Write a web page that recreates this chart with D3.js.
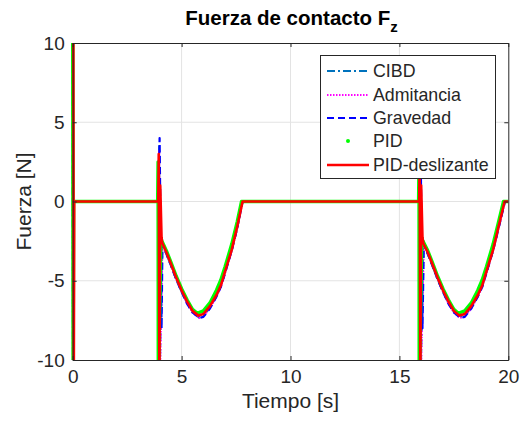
<!DOCTYPE html>
<html><head><meta charset="utf-8">
<script src="https://cdn.jsdelivr.net/npm/d3@7"></script>
<style>
html,body{margin:0;padding:0;background:#fff;}
svg{display:block;font-family:"Liberation Sans",Arial,Helvetica,sans-serif;}
</style></head>
<body>
<svg id="chart" width="521" height="425"></svg>
<script>
// ---------- data ----------
const xTicks = [0, 5, 10, 15, 20];
const yTicks = [-10, -5, 0, 5, 10];
const seriesNames = ["CIBD", "Admitancia", "Gravedad", "PID", "PID-deslizante"];

const cibd = [
  [0,12],[0.01,-12],[0.03,0],[3.94,0],[3.97,3.5],[4.0,-11],[4.1,-2.6],
  [4.3,-3.3],[4.5,-4.0],[4.75,-4.9],[5.0,-5.7],[5.25,-6.4],[5.5,-6.95],[5.78,-7.3],
  [6.0,-7.2],[6.3,-6.7],[6.6,-5.95],[6.8,-5.35],[7.0,-4.45],[7.3,-3.1],[7.55,-1.7],[7.8,0],
  [15.92,0],[15.95,3.5],[15.98,-11],[16.1,-2.65],
  [16.3,-3.3],[16.5,-4.0],[16.75,-4.9],[17.0,-5.7],[17.25,-6.4],[17.5,-6.95],[17.76,-7.3],
  [18.0,-7.2],[18.3,-6.7],[18.6,-5.95],[18.8,-5.35],[19.0,-4.45],[19.3,-3.1],[19.55,-1.7],[19.83,0],[20,0]
];
const admitancia = [
  [0,12],[0.01,-12],[0.03,0],[3.94,0],[3.97,3.2],[4.01,-11],[4.12,-2.7],
  [4.3,-3.3],[4.5,-4.0],[4.75,-4.9],[5.0,-5.7],[5.25,-6.45],[5.5,-7.0],[5.8,-7.35],
  [6.0,-7.25],[6.3,-6.75],[6.6,-6.0],[6.8,-5.4],[7.0,-4.5],[7.3,-3.1],[7.55,-1.7],[7.8,0],
  [15.92,0],[15.95,3.2],[15.99,-11],[16.12,-2.7],
  [16.3,-3.3],[16.5,-4.0],[16.75,-4.9],[17.0,-5.7],[17.25,-6.45],[17.5,-7.0],[17.78,-7.35],
  [18.0,-7.25],[18.3,-6.75],[18.6,-6.0],[18.8,-5.4],[19.0,-4.5],[19.3,-3.1],[19.55,-1.7],[19.85,0],[20,0]
];
const gravedad = [
  [0,12],[0.02,-12],[0.04,0],[3.95,0],[3.99,4.0],[4.08,-8.0],[4.12,-2.7],
  [4.3,-3.3],[4.5,-4.0],[4.75,-4.9],[5.0,-5.7],[5.25,-6.45],[5.5,-7.0],[5.82,-7.35],
  [6.0,-7.28],[6.3,-6.75],[6.6,-6.0],[6.8,-5.4],[7.0,-4.5],[7.3,-3.1],[7.55,-1.7],[7.8,0],
  [15.93,0],[15.97,4.0],[16.06,-8.0],[16.12,-2.7],
  [16.3,-3.3],[16.5,-4.0],[16.75,-4.9],[17.0,-5.7],[17.25,-6.45],[17.5,-7.0],[17.8,-7.35],
  [18.0,-7.28],[18.3,-6.75],[18.6,-6.0],[18.8,-5.4],[19.0,-4.5],[19.3,-3.1],[19.55,-1.7],[19.85,0],[20,0]
];
const pid = [
  [0,12],[0.02,-12],[0.04,0],[3.9,0],[3.92,2.5],[3.93,-12],[4.05,-2.3],[4.1,-2.5],
  [4.3,-3.1],[4.5,-3.8],[4.75,-4.7],[5.0,-5.5],[5.25,-6.2],[5.5,-6.8],[5.72,-7.05],
  [6.0,-6.9],[6.3,-6.4],[6.6,-5.6],[6.8,-4.95],[7.0,-4.1],[7.3,-2.7],[7.55,-1.3],[7.75,0],
  [15.88,0],[15.9,2.5],[15.91,-12],[16.03,-2.3],[16.08,-2.5],
  [16.3,-3.1],[16.5,-3.8],[16.75,-4.7],[17.0,-5.5],[17.25,-6.2],[17.5,-6.8],[17.7,-7.05],
  [18.0,-6.9],[18.3,-6.4],[18.6,-5.6],[18.8,-4.95],[19.0,-4.1],[19.3,-2.7],[19.55,-1.3],[19.78,0],[20,0]
];
const pidDeslizante = [
  [0.03,12],[0.05,-12],[0.07,0],[3.93,0],[3.95,3.0],[3.98,-12],[4.02,1.0],[4.08,-2.3],[4.11,-2.6],
  [4.3,-3.2],[4.5,-3.9],[4.75,-4.8],[5.0,-5.6],[5.25,-6.3],[5.5,-6.9],[5.77,-7.2],
  [6.0,-7.1],[6.3,-6.6],[6.6,-5.9],[6.8,-5.3],[7.0,-4.4],[7.3,-3.05],[7.55,-1.6],[7.8,0],
  [15.91,0],[15.93,3.0],[15.96,-12],[16.0,1.0],[16.06,-2.3],[16.1,-2.65],
  [16.3,-3.2],[16.5,-3.9],[16.75,-4.8],[17.0,-5.6],[17.25,-6.3],[17.5,-6.9],[17.75,-7.2],
  [18.0,-7.1],[18.3,-6.6],[18.6,-5.9],[18.8,-5.3],[19.0,-4.4],[19.3,-3.05],[19.55,-1.6],[19.83,0],[20,0]
];

// ---------- layout ----------
const svg = d3.select("#chart");
const L = 72.7, R = 508.3, T = 43, B = 360;
const x = d3.scaleLinear().domain([0, 20]).range([L, R]);
const y = d3.scaleLinear().domain([-10, 10]).range([B, T]);
const axisColor = "#262626";
const fmt = d => String(d);

// grid
const grid = svg.append("g");
grid.selectAll(".gx").data(xTicks.slice(1, -1)).enter().append("line")
  .attr("x1", d => x(d)).attr("x2", d => x(d)).attr("y1", T).attr("y2", B)
  .attr("stroke", "#e3e3e3").attr("stroke-width", 1);
grid.selectAll(".gy").data(yTicks.slice(1, -1)).enter().append("line")
  .attr("y1", d => y(d)).attr("y2", d => y(d)).attr("x1", L).attr("x2", R)
  .attr("stroke", "#e3e3e3").attr("stroke-width", 1);

// clip
svg.append("defs").append("clipPath").attr("id", "clip")
  .append("rect").attr("x", L - 2).attr("y", T).attr("width", R - L + 2).attr("height", B - T);

const line = d3.line().x(d => x(d[0])).y(d => y(d[1]));
const plot = svg.append("g").attr("clip-path", "url(#clip)");

const styles = [
  {data: cibd, color: "#0072BD", width: 2, dash: "8,3,2,3"},
  {data: admitancia, color: "#FF00FF", width: 2, dash: "1.5,1.5"},
  {data: gravedad, color: "#0000FF", width: 2.2, dash: "7,4"},
  {data: pid, color: "#00FF00", width: 3.4, dash: null},
  {data: pidDeslizante, color: "#FF0000", width: 2.6, dash: null}
];
styles.forEach(s => {
  plot.append("path").datum(s.data).attr("d", line)
    .attr("fill", "none").attr("stroke", s.color).attr("stroke-width", s.width)
    .attr("stroke-dasharray", s.dash).attr("stroke-linejoin", "round");
});

// axes
const xAxisB = d3.axisBottom(x).tickValues(xTicks).tickFormat(fmt).tickSizeInner(-4).tickSizeOuter(0).tickPadding(10);
const yAxisL = d3.axisLeft(y).tickValues(yTicks).tickFormat(fmt).tickSizeInner(-4).tickSizeOuter(0).tickPadding(8);
const gxB = svg.append("g").attr("transform", `translate(0,${B})`).call(xAxisB);
const gyL = svg.append("g").attr("transform", `translate(${L},0)`).call(yAxisL);
const gxT = svg.append("g").attr("transform", `translate(0,${T})`)
  .call(d3.axisTop(x).tickValues(xTicks).tickSizeInner(-4).tickSizeOuter(0).tickFormat(""));
const gyR = svg.append("g").attr("transform", `translate(${R},0)`)
  .call(d3.axisRight(y).tickValues(yTicks).tickSizeInner(-4).tickSizeOuter(0).tickFormat(""));
[gxB, gyL, gxT, gyR].forEach(g => {
  g.select(".domain").attr("stroke", axisColor).attr("stroke-width", 1);
  g.selectAll(".tick line").attr("stroke", axisColor);
  g.selectAll("text").attr("fill", axisColor).style("font-size", "19px")
    .style("font-family", "'Liberation Sans',Arial,sans-serif");
});

// labels
svg.append("text").attr("x", (L + R) / 2).attr("y", 408).attr("text-anchor", "middle")
  .attr("fill", axisColor).style("font-size", "21px").text("Tiempo [s]");
svg.append("text").attr("transform", `translate(31,${(T + B) / 2}) rotate(-90)`)
  .attr("text-anchor", "middle").attr("fill", axisColor).style("font-size", "21px").text("Fuerza [N]");
const title = svg.append("text").attr("x", (L + R) / 2 + 1).attr("y", 25).attr("text-anchor", "middle")
  .attr("fill", "#000").style("font-size", "20.5px").style("font-weight", "bold");
title.append("tspan").text("Fuerza de contacto F");
title.append("tspan").attr("dy", 7).style("font-size", "15px").text("z");

// legend
const lg = svg.append("g");
lg.append("rect").attr("x", 320.5).attr("y", 55.5).attr("width", 175).attr("height", 123)
  .attr("fill", "#fff").attr("stroke", axisColor).attr("stroke-width", 1);
const legY = [71, 95, 118, 141, 165];
styles.forEach((s, i) => {
  const yy = legY[i];
  if (i === 3) {
    lg.append("circle").attr("cx", 348).attr("cy", yy).attr("r", 2).attr("fill", s.color);
  } else {
    lg.append("line").attr("x1", 327).attr("x2", 369).attr("y1", yy).attr("y2", yy)
      .attr("stroke", s.color).attr("stroke-width", s.width > 2.4 ? 2.5 : 2).attr("stroke-dasharray", s.dash);
  }
  lg.append("text").attr("x", 373).attr("y", yy).attr("dy", "0.35em")
    .attr("fill", axisColor).style("font-size", "17.8px").text(seriesNames[i]);
});
</script>
</body></html>
